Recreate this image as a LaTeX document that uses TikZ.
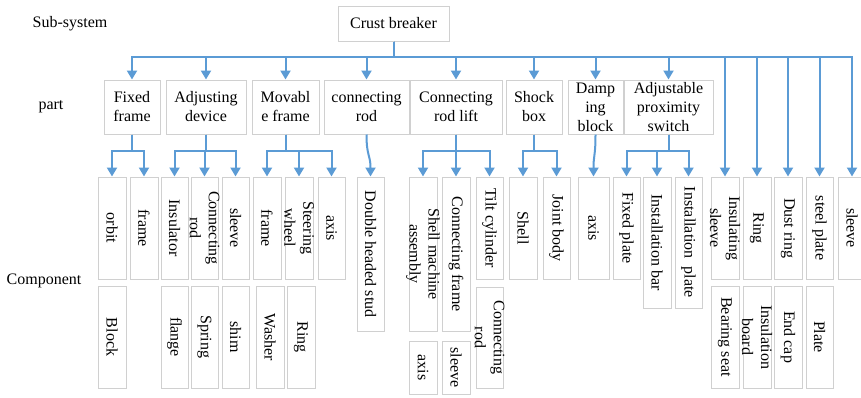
\documentclass[tikz,border=0pt]{standalone}
\usepackage{fontspec}
\setmainfont{Liberation Serif}
\usetikzlibrary{arrows.meta,shadows}
\definecolor{arrblue}{HTML}{5B9BD5}
\definecolor{boxline}{HTML}{D0D0D0}
\tikzset{
 box/.style={draw=boxline, line width=1pt, fill=white, inner sep=0pt, rectangle,
   drop shadow={shadow xshift=1.2pt, shadow yshift=-1.2pt, fill=black!25, opacity=0.5}},
 txt/.style={font=\fontsize{16}{19}\selectfont, align=center, inner sep=0pt},
 vtxt/.style={txt, rotate=-90},
 lbl/.style={font=\fontsize{16}{19}\selectfont, inner sep=0pt},
 arr/.style={draw=arrblue, line width=2pt, -{Triangle[length=9pt,width=10pt]}},
}
\newcommand\mkbox[6]{%
 \node[box, minimum width={(#4-#2)*1pt}, minimum height={(#5-#3)*1pt}] (#1) at ({(#2+#4)/2},{(#3+#5)/2}) {};
 \node[txt] (#1t) at (#1.center) {#6};}
\newcommand\mkvbox[6]{%
 \node[box, minimum width={(#4-#2)*1pt}, minimum height={(#5-#3)*1pt}] (#1) at ({(#2+#4)/2},{(#3+#5)/2}) {};
 \node[vtxt] (#1t) at (#1.center) {#6};}
\begin{document}
\begin{tikzpicture}[x=1pt,y=-1pt]
\useasboundingbox (0,0) rectangle (861,397);
% row labels
\node[lbl] (lsub) at (70,24) {Sub-system};
\node[lbl] (lpart) at (51,107) {part};
\node[lbl] (lcomp) at (44,281) {Component};
% top
\mkbox{cb}{338}{6}{449}{41}{Crust breaker}
% parts
\mkbox{p1}{104}{80}{160}{134}{Fixed\\frame}
\mkbox{p2}{166}{80}{246}{134}{Adjusting\\device}
\mkbox{p3}{252}{80}{319}{134}{Movabl\\e frame}
\mkbox{p4}{324}{80}{409}{134}{connecting\\rod}
\mkbox{p5}{410}{80}{502}{134}{Connecting\\rod lift}
\mkbox{p6}{506}{80}{562}{134}{Shock\\box}
\mkbox{p7}{568}{80}{623}{134}{Damp\\ing\\block}
\mkbox{p8}{624}{80}{713}{134}{Adjustable\\proximity\\switch}
% components row 1
\mkvbox{c1}{98}{177}{126}{279}{orbit}
\mkvbox{c2}{130}{177}{158}{279}{frame}
\mkvbox{c3}{161}{177}{188}{279}{Insulator}
\mkvbox{c4}{191}{177}{218}{279}{Connecting\\rod}
\mkvbox{c5}{222}{177}{249}{279}{sleeve}
\mkvbox{c6}{253}{177}{281}{279}{frame}
\mkvbox{c7}{285}{177}{313}{279}{Steering\\wheel}
\mkvbox{c8}{318}{177}{345}{279}{axis}
\mkvbox{c9}{357}{177}{384}{331}{Double headed stud}
\mkvbox{c10}{409}{177}{437}{331}{Shell machine\\assembly}
\mkvbox{c11}{442}{177}{470}{331}{Connecting frame}
\mkvbox{c12}{476}{177}{503}{279}{Tilt cylinder}
\mkvbox{c13}{509}{177}{537}{279}{Shell}
\mkvbox{c14}{543}{177}{570}{279}{Joint body}
\mkvbox{c15}{578}{177}{609}{279}{axis}
\mkvbox{c16}{613}{177}{640}{279}{Fixed plate}
\mkvbox{c17}{643}{177}{671}{308}{Installation bar}
\mkvbox{c18}{675}{177}{702}{308}{Installation\ \ plate}
\mkvbox{c19}{711}{177}{739}{279}{Insulating\\sleeve}
\mkvbox{c20}{743}{177}{771}{279}{Ring}
\mkvbox{c21}{774}{177}{802}{279}{Dust ring}
\mkvbox{c22}{806}{177}{833}{279}{steel plate}
\mkvbox{c23}{838}{177}{866}{279}{sleeve}
% components row 2
\mkvbox{d1}{98}{286}{126}{388}{Block}
\mkvbox{d2}{161}{286}{188}{388}{flange}
\mkvbox{d3}{191}{286}{218}{388}{Spring}
\mkvbox{d4}{222}{286}{249}{388}{shim}
\mkvbox{d5}{256}{286}{284}{388}{Washer}
\mkvbox{d6}{287}{286}{315}{388}{Ring}
\mkvbox{d7}{409}{341}{437}{394}{axis}
\mkvbox{d8}{442}{341}{470}{394}{sleeve}
\mkvbox{d9}{476}{287}{503}{388}{Connecting\\rod}
\mkvbox{d10}{711}{286}{739}{388}{Bearing seat}
\mkvbox{d11}{743}{286}{771}{388}{Insulation\\board}
\mkvbox{d12}{774}{286}{802}{388}{End cap}
\mkvbox{d13}{806}{286}{833}{388}{Plate}
% connectors
\coordinate (bus) at (0,57);
\coordinate (sub) at (0,151);
\foreach \t in {p1,p2,p3,p4,p5,p6,p7,p8,c19,c20,c21,c22,c23}
  \draw[arr] (cb.south) -- (cb.south |- bus) -| (\t.north);
\foreach \p/\t in {p1/c1,p1/c2,p2/c3,p2/c4,p2/c5,p3/c6,p3/c7,p3/c8,p5/c10,p5/c11,p5/c12,p6/c13,p6/c14,p8/c16,p8/c17,p8/c18}
  \draw[arr] (\p.south) -- (\p.south |- sub) -| (\t.north);
\draw[arr] (p4.south) .. controls +(0,22) and +(0,-22) .. (c9.north);
\draw[arr] (p7.south) .. controls +(0,22) and +(0,-22) .. (c15.north);
\end{tikzpicture}
\end{document}
